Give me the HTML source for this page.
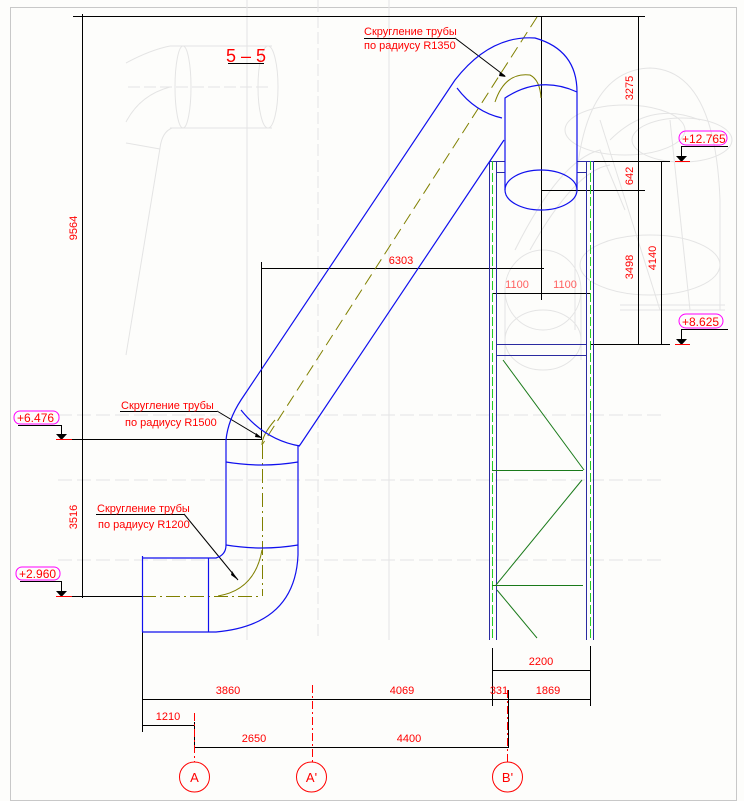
<!DOCTYPE html>
<html><head><meta charset="utf-8"><style>
html,body{margin:0;padding:0;background:#fdfdfb;}
svg{display:block;}
text{font-family:"Liberation Sans",sans-serif;}
</style></head><body>
<svg width="744" height="801" viewBox="0 0 744 801" xmlns="http://www.w3.org/2000/svg">
<rect x="0" y="0" width="744" height="801" fill="#fdfdfb"/>
<rect x="10.5" y="7.5" width="726" height="793" fill="none" stroke="#c8c8c8" stroke-width="1"/>

<!-- ghost drawings -->
<g fill="none" stroke="#e4e4e4" stroke-width="1">
<line x1="247" y1="0" x2="247" y2="640"/>
<line x1="389" y1="0" x2="389" y2="640"/>
<line x1="318" y1="0" x2="318" y2="640" stroke-dasharray="12,4"/>
<line x1="58" y1="415" x2="662" y2="415" stroke-dasharray="14,5"/>
<line x1="58" y1="480" x2="662" y2="480" stroke-dasharray="14,5"/>
<line x1="58" y1="560" x2="662" y2="560" stroke-dasharray="14,5"/>
<line x1="170" y1="46" x2="272" y2="46"/>
<line x1="170" y1="128" x2="272" y2="128"/>
<ellipse cx="183" cy="87" rx="8" ry="41"/>
<ellipse cx="268" cy="87" rx="10" ry="41"/>
<path d="M126,63 Q150,50 170,46"/>
<path d="M126,122 Q140,95 170,87"/>
<line x1="128" y1="87" x2="272" y2="87" stroke-dasharray="12,4"/>
<path d="M172,128 Q162,132 160,148 L126,355"/>
<line x1="126" y1="143" x2="160" y2="149"/>
<path d="M575,330 L575,200 Q580,70 650,68 Q715,70 720,200 L720,310"/>
<path d="M610,140 Q650,100 700,120"/>
<ellipse cx="625" cy="130" rx="60" ry="25"/>
<ellipse cx="682" cy="140" rx="50" ry="22"/>
<ellipse cx="650" cy="265" rx="70" ry="30"/>
<line x1="600" y1="120" x2="660" y2="310"/>
<line x1="670" y1="120" x2="690" y2="310"/>
<line x1="620" y1="305" x2="725" y2="305"/>
<line x1="620" y1="310" x2="725" y2="310"/>
<ellipse cx="543" cy="290" rx="38" ry="40"/>
<ellipse cx="543" cy="340" rx="38" ry="30"/>
<path d="M505,290 L505,360 M581,290 L581,360"/>
<path d="M515,250 Q560,160 600,150 L625,210"/>
<path d="M530,250 Q575,170 610,165"/>
</g>

<!-- main black dims -->
<g stroke="#000" stroke-width="1" fill="none">
<line x1="73" y1="16.5" x2="645" y2="16.5"/>
<line x1="82.5" y1="14" x2="82.5" y2="598"/>
<line x1="541.5" y1="16" x2="541.5" y2="300"/>
<line x1="541" y1="190.5" x2="645" y2="190.5"/>
<line x1="261.5" y1="262" x2="261.5" y2="440"/>
<line x1="261" y1="268.5" x2="544" y2="268.5"/>
<line x1="492" y1="293.5" x2="590" y2="293.5"/>
<line x1="638.5" y1="16" x2="638.5" y2="344"/>
<line x1="661.5" y1="161" x2="661.5" y2="344"/>
<line x1="590" y1="161.5" x2="670" y2="161.5"/>
<line x1="590" y1="344.5" x2="670" y2="344.5"/>
<line x1="58" y1="439.5" x2="262" y2="439.5"/>
<line x1="58" y1="596.5" x2="142" y2="596.5"/>
<line x1="142.5" y1="596" x2="142.5" y2="732"/>
<line x1="142" y1="699.5" x2="590" y2="699.5"/>
<line x1="492" y1="670.5" x2="590" y2="670.5"/>
<line x1="590.5" y1="646" x2="590.5" y2="706"/>
<line x1="492.5" y1="648" x2="492.5" y2="706"/>
<line x1="142" y1="725.5" x2="194" y2="725.5"/>
<line x1="194" y1="747.5" x2="508" y2="747.5"/>
<line x1="194.5" y1="722" x2="194.5" y2="748"/>
<line x1="508.5" y1="690" x2="508.5" y2="748"/>
<line x1="455" y1="38" x2="505" y2="76"/>
<line x1="120" y1="411.5" x2="217" y2="411.5"/>
<line x1="217" y1="411" x2="262" y2="438"/>
<line x1="96" y1="514.5" x2="184" y2="514.5"/>
<line x1="184" y1="514" x2="238" y2="580"/>
<line x1="364" y1="38.5" x2="455" y2="38.5"/>
<polyline points="728,146.5 681.5,146.5 681.5,158"/>
<polyline points="728,329.5 681.5,329.5 681.5,341"/>
<polyline points="18,425.5 61.5,425.5 61.5,436"/>
<polyline points="20,581.5 61.5,581.5 61.5,593"/>
</g>
<g fill="#000">
<polygon points="676,156 687,156 681.5,162"/>
<polygon points="676,339 687,339 681.5,345"/>
<polygon points="56,434 67,434 61.5,440"/>
<polygon points="56,591 67,591 61.5,597"/>
<polygon points="500,72 506,77 499,76"/>
<polygon points="256,433 262,438 255,437"/>
<polygon points="232,571 238,580 231,575"/>
</g>
<g stroke="#f00" stroke-width="1">
<line x1="675" y1="161.5" x2="690" y2="161.5"/>
<line x1="675" y1="344.5" x2="690" y2="344.5"/>
<line x1="56" y1="439.5" x2="72" y2="439.5"/>
<line x1="56" y1="596.5" x2="72" y2="596.5"/>
</g>

<!-- column -->
<g stroke="#2a2aa0" stroke-width="1" fill="none">
<line x1="489.5" y1="161" x2="489.5" y2="640"/>
<line x1="496.5" y1="161" x2="496.5" y2="640"/>
<line x1="586.5" y1="161" x2="586.5" y2="640"/>
<line x1="593.5" y1="161" x2="593.5" y2="640"/>
<line x1="489" y1="161.5" x2="505" y2="161.5"/>
<line x1="577" y1="161.5" x2="593" y2="161.5"/>
<line x1="496" y1="172.5" x2="505" y2="172.5"/>
<line x1="577" y1="172.5" x2="586" y2="172.5"/>
<line x1="496" y1="344.5" x2="586" y2="344.5"/>
<line x1="496" y1="355.5" x2="586" y2="355.5"/>
</g>
<g stroke="#22cc22" stroke-width="1" stroke-dasharray="9,3">
<line x1="492.5" y1="161" x2="492.5" y2="640"/>
<line x1="590.5" y1="161" x2="590.5" y2="640"/>
</g>
<g stroke="#1a7a1a" stroke-width="1" fill="none">
<line x1="503" y1="360" x2="584" y2="470"/>
<line x1="492" y1="470.5" x2="583" y2="470.5"/>
<line x1="582" y1="480" x2="496" y2="585"/>
<line x1="492" y1="585.5" x2="583" y2="585.5"/>
<line x1="497" y1="590" x2="537" y2="638"/>
</g>

<!-- olive centerlines -->
<g stroke="#808000" stroke-width="1" fill="none">
<line x1="537" y1="17" x2="262" y2="445" stroke-dasharray="12,6"/>
<line x1="262.5" y1="445" x2="262.5" y2="596" stroke-dasharray="14,4,2,4"/>
<line x1="142" y1="596.5" x2="262" y2="596.5" stroke-dasharray="14,4,2,4"/>
<path d="M495,102 Q505,72 530,75 Q540,80 541,98"/>
<path d="M262,445 Q262,435 275,420"/>
<path d="M262,550 Q255,590 218,596"/>
</g>

<!-- pipe -->
<g stroke="#1010ee" stroke-width="1.2" fill="none">
<line x1="142.5" y1="556" x2="142.5" y2="632"/>
<line x1="208.5" y1="558" x2="208.5" y2="632"/>
<path d="M142,558 L216,558 Q226,555 226,545 L226,440 Q228,420 241,400 L455,80 Q490,35 535,38 Q577,50 577,92 L577,190"/>
<path d="M142,632 L216,632 Q295,625 298,555 L298,446 L300,445 L504,140"/>
<path d="M241,410 Q265,440 300,446"/>
<path d="M226,462 Q262,468 298,462"/>
<path d="M226,545 Q262,551 298,545"/>
<path d="M457,88 Q475,112 502,118"/>
<path d="M505,190 L505,98 Q540,75 577,92"/>
<ellipse cx="541" cy="190" rx="36" ry="20"/>
</g>

<!-- texts -->
<g fill="#ff0000" font-size="11">
<text transform="translate(77,228) rotate(-90)" text-anchor="middle">9564</text>
<text transform="translate(77,517) rotate(-90)" text-anchor="middle">3516</text>
<text transform="translate(633,88) rotate(-90)" text-anchor="middle">3275</text>
<text transform="translate(633,176) rotate(-90)" text-anchor="middle">642</text>
<text transform="translate(633,267) rotate(-90)" text-anchor="middle">3498</text>
<text transform="translate(656,258) rotate(-90)" text-anchor="middle">4140</text>
<text x="401" y="264" text-anchor="middle">6303</text>
<text x="517" y="288" text-anchor="middle" fill="#ff6060">1100</text>
<text x="565" y="288" text-anchor="middle" fill="#ff6060">1100</text>
<text x="541" y="665" text-anchor="middle">2200</text>
<text x="228" y="694" text-anchor="middle">3860</text>
<text x="402" y="694" text-anchor="middle">4069</text>
<text x="499" y="694" text-anchor="middle">331</text>
<text x="548" y="694" text-anchor="middle">1869</text>
<text x="168" y="720" text-anchor="middle">1210</text>
<text x="254" y="742" text-anchor="middle">2650</text>
<text x="409" y="742" text-anchor="middle">4400</text>
<text x="364" y="35">Скругление трубы</text>
<text x="364" y="49">по радиусу R1350</text>
<text x="121" y="409">Скругление трубы</text>
<text x="125" y="426">по радиусу R1500</text>
<text x="97" y="512">Скругление трубы</text>
<text x="98" y="528">по радиусу R1200</text>
<text x="246" y="62" text-anchor="middle" font-size="18">5 – 5</text>
</g>
<line x1="228" y1="63.5" x2="264" y2="63.5" stroke="#000"/>

<!-- level clouds -->
<g stroke="#ff00ff" stroke-width="1" fill="none">
<rect x="679" y="131" width="48" height="14" rx="7"/>
<rect x="679" y="314" width="44" height="14" rx="7"/>
<rect x="14" y="411" width="45" height="13" rx="6"/>
<rect x="16" y="567" width="44" height="13" rx="6"/>
</g>
<g fill="#ff0000" font-size="12">
<text x="682" y="143">+12.765</text>
<text x="682" y="326">+8.625</text>
<text x="17" y="422">+6.476</text>
<text x="19" y="578">+2.960</text>
</g>

<!-- axes -->
<g stroke="#ff0000" stroke-width="1" fill="none">
<line x1="194.5" y1="713" x2="194.5" y2="762" stroke-dasharray="8,3,2,3"/>
<line x1="312.5" y1="685" x2="312.5" y2="762" stroke-dasharray="8,3,2,3"/>
<line x1="507.5" y1="690" x2="507.5" y2="762" stroke-dasharray="8,3,2,3"/>
<circle cx="194.5" cy="777" r="15"/>
<circle cx="311.5" cy="777" r="15"/>
<circle cx="507.5" cy="777" r="15"/>
</g>
<g fill="#ff0000" font-size="13" text-anchor="middle">
<text x="194.5" y="782">A</text>
<text x="311.5" y="782">A'</text>
<text x="507.5" y="782">B'</text>
</g>
</svg>
</body></html>
